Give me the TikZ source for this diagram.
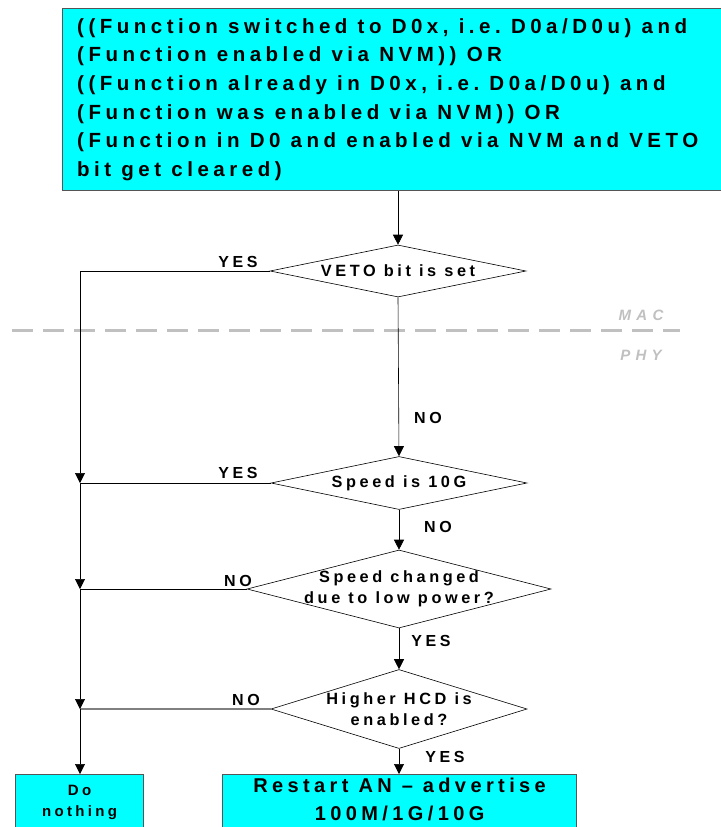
\documentclass[tikz,border=0pt]{standalone}
\usepackage{fontspec}
\usetikzlibrary{shapes.geometric,arrows.meta}
\newfontfamily\flowfont[LetterSpace=22]{Liberation Sans}
\newfontfamily\layerfont[LetterSpace=35]{Liberation Sans}
\definecolor{boxcyan}{HTML}{00FFFF}
\definecolor{boxedge}{HTML}{555555}
\definecolor{layergray}{HTML}{C0C0C0}
\tikzset{
  cyanbox/.style={draw=boxedge,fill=boxcyan,line width=1.2pt,inner sep=0pt},
  decision/.style={diamond,draw,fill=white,inner sep=0pt,line width=0.6pt},
  dectext/.style={font=\flowfont\bfseries\fontsize{16.3}{21}\selectfont,align=center},
  answer/.style={font=\flowfont\bfseries\fontsize{16}{18}\selectfont,inner sep=0pt},
  layer/.style={font=\layerfont\bfseries\itshape\fontsize{15}{18}\selectfont,text=layergray,inner sep=0pt},
  arr/.style={-{Triangle[length=10pt,width=10pt]}},
  flow/.style={line width=0.6pt}
}
\begin{document}
\frenchspacing
\begin{tikzpicture}[x=1pt,y=-1pt]
\useasboundingbox (0,0) rectangle (720,827);
% start condition
\node[cyanbox,anchor=north west,minimum width=700,minimum height=182,
  label={[font=\flowfont\bfseries\fontsize{20.5}{28.6}\selectfont,align=left,anchor=west,inner xsep=15pt]west:{((Function switched to D0x, i.e. D0a/D0u) and\\
  (Function enabled via NVM)) OR\\
  ((Function already in D0x, i.e. D0a/D0u) and\\
  (Function was enabled via NVM)) OR\\
  (Function in D0 and enabled via NVM and VETO\\
  bit get cleared)}}]
  (start) at (62,8) {};
% MAC / PHY border
\draw[layergray,line width=3pt,dash pattern=on 21pt off 10pt] (12,330) -- (680,330);
\node[layer] (mac) at (641,315) {MAC};
\node[layer] (phy) at (641,355) {PHY};
% decisions
\node[decision,minimum width=256,minimum height=52,
  label={[dectext]center:VETO bit is set}] (veto) at (398,271) {};
\node[decision,minimum width=256,minimum height=53,
  label={[dectext]center:Speed is 10G}] (speed) at (399,483) {};
\node[decision,minimum width=304,minimum height=78,
  label={[dectext]center:{Speed changed\\due to low power?}}] (lowpow) at (399,589) {};
\node[decision,minimum width=256,minimum height=79,
  label={[dectext]center:{Higher HCD is\\enabled?}}] (hcd) at (399,709) {};
% results
\node[cyanbox,anchor=north west,minimum width=128,minimum height=60,
  label={[font=\flowfont\bfseries\fontsize{15}{21}\selectfont,align=center,yshift=2.5pt]center:{Do\\nothing}}]
  (nothing) at (15,774) {};
\node[cyanbox,anchor=north west,minimum width=354,minimum height=60,
  label={[font=\flowfont\bfseries\fontsize{20}{28}\selectfont,align=center,yshift=5pt]center:{Restart AN – advertise\\100M/1G/10G}}]
  (restart) at (222,774) {};
% junctions on the left rail
\coordinate (j1) at (80,271);
\coordinate (j2) at (80,483);
\coordinate (j3) at (80,589);
\coordinate (j4) at (80,709);
% connectors
\draw[flow,arr] (start.south -| veto.north) -- (veto.north);
\draw[flow,arr] (veto.south) -- (speed.north);
\draw[flow,arr] (speed.south) -- (lowpow.north);
\draw[flow,arr] (lowpow.south) -- (hcd.north);
\draw[flow,arr] (hcd.south) -- (restart.north -| hcd.south);
\draw[flow] (veto.west) -- (j1);
\draw[flow] (speed.west) -- (j2);
\draw[flow] (lowpow.west) -- (j3);
\draw[line width=1.5pt,gray] (hcd.west) -- (j4);
\draw[flow,arr] (j1) -- (j2);
\draw[flow,arr] (j2) -- (j3);
\draw[flow,arr] (j3) -- (j4);
\draw[flow,arr] (j4) -- (nothing.north -| j4);
% answers
\node[answer] (y1) at (238,262) {YES};
\node[answer] (n1) at (428,418) {NO};
\node[answer] (y2) at (238,473) {YES};
\node[answer] (n2) at (438,527) {NO};
\node[answer] (n3) at (238,581) {NO};
\node[answer] (y3) at (431,641) {YES};
\node[answer] (n4) at (246,700) {NO};
\node[answer] (y4) at (445,757) {YES};
\end{tikzpicture}
\end{document}
